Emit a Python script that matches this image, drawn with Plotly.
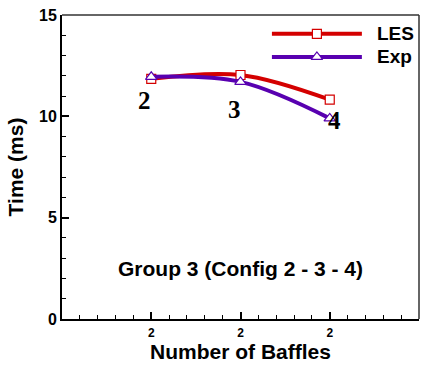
import plotly.graph_objects as go

configs = [2, 3, 4]
les_time = [11.85, 12.04, 10.82]
exp_time = [11.95, 11.7, 9.9]
x_tickvals = [2, 3, 4]
x_ticktext = ["2", "2", "2"]
y_tickvals = [0, 5, 10, 15]
point_labels = ["2", "3", "4"]
label_x = [1.92, 2.93, 4.05]
label_y = [10.8, 10.35, 9.8]
note_text = "Group 3 (Config 2 - 3 - 4)"

RED = "#d40000"
PURPLE = "#5800b0"
SANS = "Liberation Sans, Arial"

fig = go.Figure()
fig.add_trace(go.Scatter(
    x=configs, y=les_time, mode="lines+markers", name="LES",
    line=dict(color=RED, width=4, shape="spline", smoothing=1),
    marker=dict(symbol="square", size=9, color="white", line=dict(color=RED, width=1.2)),
    showlegend=False))
fig.add_trace(go.Scatter(
    x=configs, y=exp_time, mode="lines+markers", name="Exp",
    line=dict(color=PURPLE, width=4, shape="spline", smoothing=1),
    marker=dict(symbol="triangle-up", size=10, color="white", line=dict(color=PURPLE, width=1.2)),
    showlegend=False))

# manual legend on overlay axes (paper-like 0..1)
leg_items = [("LES", RED, "square", 9, 0.938), ("Exp", PURPLE, "triangle-up", 10, 0.862)]
for name, col, sym, sz, yy in leg_items:
    fig.add_trace(go.Scatter(
        x=[0.588, 0.84], y=[yy, yy], mode="lines", xaxis="x2", yaxis="y2",
        line=dict(color=col, width=4), showlegend=False, hoverinfo="skip"))
    fig.add_trace(go.Scatter(
        x=[0.714], y=[yy], mode="markers", xaxis="x2", yaxis="y2",
        marker=dict(symbol=sym, size=sz, color="white", line=dict(color=col, width=1.2)),
        showlegend=False, hoverinfo="skip"))
    fig.add_annotation(x=0.878, y=yy, xref="x2", yref="y2", text="<b>%s</b>" % name,
                       showarrow=False, xanchor="left", yanchor="middle",
                       font=dict(family=SANS, size=19, color="black"))

for t, lx, ly in zip(point_labels, label_x, label_y):
    fig.add_annotation(x=lx, y=ly, text="<b>%s</b>" % t, showarrow=False,
                       font=dict(family="Liberation Serif, Times New Roman", size=25, color="black"))

fig.add_annotation(x=3.0, y=2.5, text="<b>%s</b>" % note_text, showarrow=False,
                   font=dict(family=SANS, size=21, color="black"))

fig.update_layout(
    width=427, height=367,
    margin=dict(l=62, r=8, t=15, b=48),
    paper_bgcolor="white", plot_bgcolor="white",
    xaxis=dict(range=[1, 5], tickvals=x_tickvals, ticktext=x_ticktext,
               ticks="inside", ticklen=7, tickwidth=1.5, tickcolor="black",
               showline=True, linecolor="black", linewidth=2, mirror=False,
               showgrid=False, zeroline=False, ticklabelstandoff=2,
               tickfont=dict(family=SANS, size=12, color="black", weight="bold"),
               title=dict(text="<b>Number of Baffles</b>", standoff=0,
                          font=dict(family=SANS, size=21, color="black")),
               minor=dict(dtick=0.2, ticks="inside", ticklen=4, tickwidth=1, tickcolor="black")),
    yaxis=dict(range=[0, 15], tickvals=y_tickvals,
               ticks="inside", ticklen=7, tickwidth=1.5, tickcolor="black",
               showline=True, linecolor="black", linewidth=2, mirror=False,
               showgrid=False, zeroline=False,
               tickfont=dict(family=SANS, size=16, color="black", weight="bold"),
               title=dict(text="<b>Time (ms)</b>", standoff=10,
                          font=dict(family=SANS, size=21, color="black")),
               minor=dict(dtick=1, ticks="inside", ticklen=4, tickwidth=1, tickcolor="black")),
    xaxis2=dict(range=[0, 1], overlaying="x", visible=False, showgrid=False, zeroline=False),
    yaxis2=dict(range=[0, 1], overlaying="y", visible=False, showgrid=False, zeroline=False),
    shapes=[
        dict(type="line", xref="paper", yref="paper", x0=0, x1=1, y0=1, y1=1,
             line=dict(color="#333333", width=1.5)),
        dict(type="line", xref="paper", yref="paper", x0=1, x1=1, y0=0, y1=1,
             line=dict(color="#333333", width=1.5)),
    ],
)

fig.write_html("out.html")
